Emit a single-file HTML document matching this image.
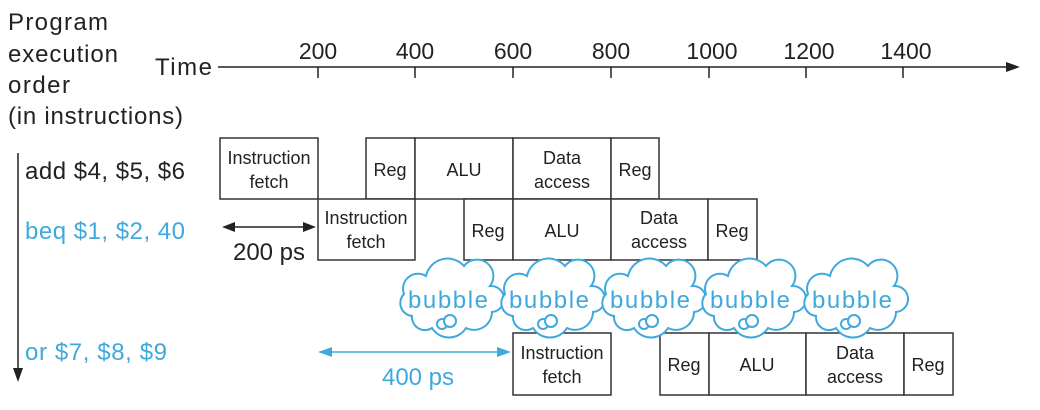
<!DOCTYPE html>
<html><head><meta charset="utf-8"><style>
html,body{margin:0;padding:0;background:#fff;}
svg{display:block;font-family:"Liberation Sans",Arial,sans-serif;}
</style></head><body>
<svg width="1040" height="410" viewBox="0 0 1040 410" xmlns="http://www.w3.org/2000/svg">
<defs>
<g id="cloud">
<path d="M-36,20 A13,13 0 0 1 -44,-2 A15,15 0 0 1 -22,-20 A22,22 0 0 1 16,-30 A15,15 0 0 1 42,-10 A13,13 0 0 1 44,16 A18,18 0 0 1 18,32 A20,20 0 0 1 -16,32 A13,13 0 0 1 -36,20 Z" fill="#fff" stroke="#3fa9dd" stroke-width="2"/>
<circle cx="-6" cy="28" r="5" fill="#fff" stroke="#3fa9dd" stroke-width="2"/>
<circle cx="2" cy="25" r="6" fill="#fff" stroke="#3fa9dd" stroke-width="2"/>
</g>
</defs>
<g font-size="24" fill="#222">
<text x="8" y="30" textLength="100">Program</text>
<text x="8" y="62" textLength="110">execution</text>
<text x="8" y="93" textLength="62">order</text>
<text x="8" y="124" textLength="175">(in instructions)</text>
<text x="155" y="75" textLength="57">Time</text>
</g>
<line x1="218" y1="67" x2="1010" y2="67" stroke="#222" stroke-width="1.5"/>
<polygon points="1020,67 1006,62 1006,72" fill="#222"/>
<g stroke="#222" stroke-width="1.5">
<line x1="318" y1="67" x2="318" y2="78"/><line x1="415" y1="67" x2="415" y2="78"/>
<line x1="513" y1="67" x2="513" y2="78"/><line x1="611" y1="67" x2="611" y2="78"/>
<line x1="709" y1="67" x2="709" y2="78"/><line x1="806" y1="67" x2="806" y2="78"/>
<line x1="903" y1="67" x2="903" y2="78"/>
</g>
<g font-size="23" fill="#222" text-anchor="middle">
<text x="318" y="59">200</text><text x="415" y="59">400</text><text x="513" y="59">600</text>
<text x="611" y="59">800</text><text x="712" y="59">1000</text><text x="809" y="59">1200</text><text x="906" y="59">1400</text>
</g>
<line x1="18" y1="153" x2="18" y2="372" stroke="#222" stroke-width="1.5"/>
<polygon points="18,382 13,368 23,368" fill="#222"/>
<g font-size="24">
<text x="25" y="179" fill="#222" textLength="160">add $4, $5, $6</text>
<text x="25" y="239" fill="#3fa9dd" textLength="160">beq $1, $2, 40</text>
<text x="25" y="360" fill="#3fa9dd" textLength="142">or $7, $8, $9</text>
</g>
<g fill="#fff" stroke="#333" stroke-width="1.5">
<rect x="220" y="138" width="98" height="61"/><rect x="366" y="138" width="49" height="61"/>
<rect x="415" y="138" width="98" height="61"/><rect x="513" y="138" width="98" height="61"/>
<rect x="611" y="138" width="48" height="61"/>
<rect x="318" y="199" width="97" height="61"/><rect x="464" y="199" width="49" height="61"/>
<rect x="513" y="199" width="98" height="61"/><rect x="611" y="199" width="97" height="61"/>
<rect x="708" y="199" width="49" height="61"/>
<rect x="513" y="333" width="98" height="62"/><rect x="660" y="333" width="49" height="62"/>
<rect x="709" y="333" width="97" height="62"/><rect x="806" y="333" width="98" height="62"/>
<rect x="904" y="333" width="49" height="62"/>
</g>
<g font-size="18" fill="#222" text-anchor="middle">
<text x="269" y="164">Instruction</text><text x="269" y="188">fetch</text>
<text x="390" y="176">Reg</text><text x="464" y="176">ALU</text>
<text x="562" y="164">Data</text><text x="562" y="188">access</text>
<text x="635" y="176">Reg</text>
<text x="366" y="224">Instruction</text><text x="366" y="248">fetch</text>
<text x="488" y="237">Reg</text><text x="562" y="237">ALU</text>
<text x="659" y="224">Data</text><text x="659" y="248">access</text>
<text x="732" y="237">Reg</text>
<text x="562" y="359">Instruction</text><text x="562" y="383">fetch</text>
<text x="684" y="371">Reg</text><text x="757" y="371">ALU</text>
<text x="855" y="359">Data</text><text x="855" y="383">access</text>
<text x="928" y="371">Reg</text>
</g>
<line x1="232" y1="227" x2="306" y2="227" stroke="#222" stroke-width="1.5"/>
<polygon points="222,227 235,222 235,232" fill="#222"/>
<polygon points="316,227 303,222 303,232" fill="#222"/>
<text x="269" y="260" font-size="24" fill="#222" text-anchor="middle">200 ps</text>
<line x1="330" y1="352" x2="500" y2="352" stroke="#3fa9dd" stroke-width="1.5"/>
<polygon points="318,352 332,347 332,357" fill="#3fa9dd"/>
<polygon points="511,352 497,347 497,357" fill="#3fa9dd"/>
<text x="418" y="385" font-size="24" fill="#3fa9dd" text-anchor="middle">400 ps</text>
<g font-size="24" fill="#3fa9dd" text-anchor="middle">
<use href="#cloud" x="448" y="296"/><text x="448" y="308" textLength="80">bubble</text>
<use href="#cloud" x="549" y="296"/><text x="549" y="308" textLength="80">bubble</text>
<use href="#cloud" x="650" y="296"/><text x="650" y="308" textLength="80">bubble</text>
<use href="#cloud" x="750" y="296"/><text x="750" y="308" textLength="80">bubble</text>
<use href="#cloud" x="852" y="296"/><text x="852" y="308" textLength="80">bubble</text>
</g>
</svg>
</body></html>
